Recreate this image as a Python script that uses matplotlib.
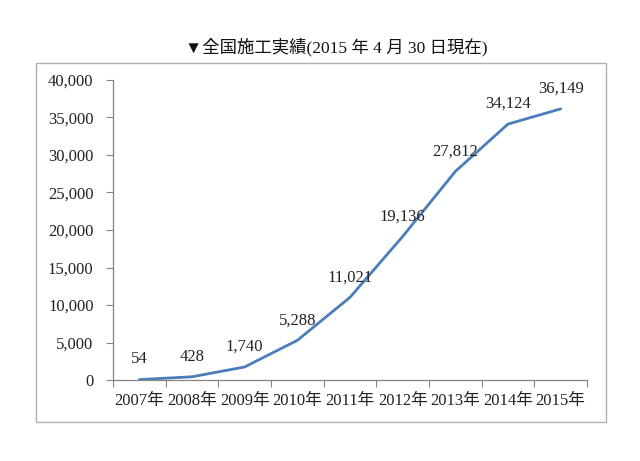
import matplotlib
matplotlib.use("Agg")
import matplotlib.pyplot as plt
from matplotlib.patches import Rectangle
from matplotlib.ticker import FixedLocator, NullFormatter

years = ["2007年", "2008年", "2009年", "2010年", "2011年", "2012年", "2013年", "2014年", "2015年"]
counts = [54, 428, 1740, 5288, 11021, 19136, 27812, 34124, 36149]
yticks = [0, 5000, 10000, 15000, 20000, 25000, 30000, 35000, 40000]
title = "▼全国施工実績(2015 年 4 月 30 日現在)"

FAM = ["Liberation Serif", "Noto Sans CJK JP", "DejaVu Sans"]
plt.rcParams["font.family"] = FAM

fig = plt.figure(figsize=(6.4, 4.61), dpi=100)
fig.patch.set_facecolor("white")

# outer chart border
fig.patches.append(Rectangle((36/640, 1-422/461), 570/640, 359/461,
                             transform=fig.transFigure, fill=False,
                             edgecolor="#b0b0b0", linewidth=1.0))

ax = fig.add_axes([113/640, 1-380/461, 474/640, 300/461])
x = list(range(len(years)))
ax.plot(x, counts, color="#4a7ebb", linewidth=2.0, solid_capstyle="round")

ax.set_xlim(-0.5, len(years) - 0.5)
ax.set_ylim(0, 40000)

ax.set_yticks(yticks)
ax.set_yticklabels([f"{v:,}" for v in yticks], fontsize=12, color="#222222")
ax.tick_params(axis="y", length=5, color="#868686", pad=9)

ax.xaxis.set_major_locator(FixedLocator([i - 0.5 for i in range(len(years) + 1)]))
ax.xaxis.set_major_formatter(NullFormatter())
ax.xaxis.set_minor_locator(FixedLocator(x))
ax.set_xticklabels(years, minor=True, fontsize=12, color="#222222")
ax.tick_params(axis="x", which="major", length=5, color="#868686")
ax.tick_params(axis="x", which="minor", length=0, pad=9)

for s in ["top", "right"]:
    ax.spines[s].set_visible(False)
for s in ["left", "bottom"]:
    ax.spines[s].set_color("#868686")
    ax.spines[s].set_linewidth(0.9)

for xi, v in zip(x, counts):
    ax.annotate(f"{v:,}", (xi, v), xytext=(0, 14.5), textcoords="offset points",
                ha="center", va="center", fontsize=12, color="#222222")

fig.text(336/640, 1-47/461, title, ha="center", va="center", fontsize=12.5,
         color="#111111")

fig.savefig("out.png", dpi=100)
